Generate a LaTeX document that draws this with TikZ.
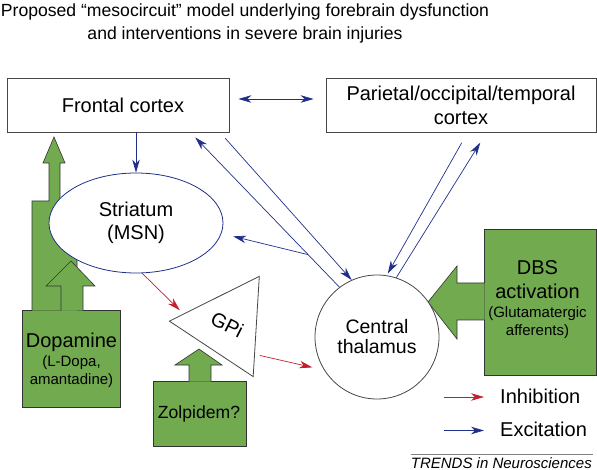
\documentclass[tikz,border=0pt]{standalone}
\usepackage{fontspec}
\setmainfont{Liberation Sans}
\usetikzlibrary{shapes.geometric,arrows.meta}

\definecolor{excblue}{RGB}{32,48,138}
\definecolor{inhred}{RGB}{196,30,45}
\definecolor{druggreen}{RGB}{114,170,80}
\definecolor{edgegray}{RGB}{70,70,70}
\newcommand{\bigtxt}{\fontsize{20}{24}\selectfont}

\begin{document}
\begin{tikzpicture}[x=1pt, y=-1pt,
	>={Stealth[length=13pt, width=7.5pt, inset=4pt]},
	box/.style={shape=rectangle, draw=edgegray, line width=0.8pt, fill=white, inner sep=0pt, align=center, font=\bigtxt},
	txt/.style={inner sep=0pt, align=center},
	drug/.style={draw=black!80, line width=0.6pt, fill=druggreen},
	exc/.style={draw=excblue, line width=0.7pt, ->},
	inh/.style={draw=inhred, line width=0.7pt, ->}]
	\useasboundingbox (0, 0) rectangle (597, 470);
	% Title:
	\node[txt, anchor=north, font=\fontsize{17.6}{23}\selectfont] (title) at (245, 4) {Proposed “mesocircuit” model underlying forebrain dysfunction\\and interventions in severe brain injuries};
	% Cortex boxes:
	\node[box, minimum width=222pt, minimum height=54pt] (front) at (118, 105) {\hspace*{10pt}Frontal cortex};
	\node[box, minimum width=270pt, minimum height=54pt] (par) at (461, 105) {Parietal/occipital/temporal\\cortex};
	% Green drug shapes (drawn under the nodes):
	\path[drug] (22, 310) rectangle (120, 407);
	\path[drug] (32, 310.6) -- (32, 201) -- (49, 201) -- (49, 163) -- (43, 163) -- (54, 137) -- (65, 163) -- (60, 163) -- (60, 201) -- (77, 201) -- (77, 310.6);
	\path[drug] (61, 310.6) -- (61, 286) -- (46, 286) -- (71, 261) -- (95, 286) -- (83, 286) -- (83, 310.6);
	\path[drug] (153, 381) rectangle (246, 446);
	\path[drug] (189, 381.6) -- (189, 365) -- (175, 365) -- (199, 349) -- (222, 365) -- (211, 365) -- (211, 381.6);
	\path[drug] (484, 229) rectangle (596, 375);
	\path[drug] (484.6, 283) -- (457, 283) -- (457, 266) -- (428, 302) -- (457, 339) -- (457, 320) -- (484.6, 320);
	% Circuit nodes:
	\node[shape=ellipse, draw=excblue, line width=0.8pt, fill=white, minimum width=174pt, minimum height=100pt, inner sep=0pt, align=center, font=\fontsize{20}{23}\selectfont] (stri) at (136, 223) {Striatum\\(MSN)};
	\node[shape=regular polygon, regular polygon sides=3, draw=edgegray, line width=0.8pt, fill=white, minimum size=116pt, inner sep=0pt, rotate=-27, shape border rotate=-6.5, font=\bigtxt] (gpi) at (227.3, 324.7) {GPi};
	\node[shape=circle, draw=edgegray, line width=0.8pt, fill=white, minimum size=124pt, inner sep=0pt, align=center, font=\fontsize{19.5}{20}\selectfont] (thal) at (377, 337) {Central\\thalamus};
	% Drug labels:
	\node[txt, font=\fontsize{15}{18}\selectfont] (dopa) at (71.5, 360.5) {{\bigtxt Dopamine}\\[1pt](L-Dopa,\\amantadine)};
	\node[txt, anchor=base, font=\fontsize{17.6}{20}\selectfont] (zolp) at (199, 418) {Zolpidem?};
	\node[txt, font=\fontsize{15}{18}\selectfont] (dbs) at (537.5, 300) {{\bigtxt DBS}\\[6pt]{\bigtxt activation}\\[1pt](Glutamatergic\\afferents)};
	% Excitation:
	\draw[exc, <->, shorten <=9pt, shorten >=12pt] ([yshift=6pt]front.east) -- ([yshift=6pt]par.west);
	\draw[exc] (front.south -| stri.north) -- (stri.north);
	\draw[exc, shorten <=8pt] ([xshift=-9.4pt]front.south east) -- (thal.114);
	\draw[exc, shorten >=7pt] (thal.127) -- coordinate[pos=0.21] (br) ([xshift=-39pt]front.south east);
	\draw[exc, shorten >=12pt] (br) -- (stri.-7);
	\draw[exc, shorten <=12pt, shorten >=2pt] ([xshift=142pt]par.south west) -- (thal.81);
	\draw[exc, shorten >=12pt] (thal.72) -- ([xshift=161pt]par.south west);
	% Inhibition:
	\draw[inh, shorten >=5pt] (stri.-83) -- (gpi.193);
	\draw[inh, shorten <=5pt, shorten >=12pt] (gpi.-20) -- (thal.212);
	% Legend:
	\node[txt, anchor=base west, font=\bigtxt] (inhtxt) at (500, 403) {Inhibition};
	\node[txt, anchor=base west, font=\bigtxt] (exctxt) at (500, 436) {Excitation};
	\draw[inh] ([xshift=-56pt, yshift=6pt]inhtxt.base west) -- ([xshift=-16pt, yshift=6pt]inhtxt.base west);
	\draw[exc] ([xshift=-56pt, yshift=5.5pt]exctxt.base west) -- ([xshift=-16pt, yshift=5.5pt]exctxt.base west);
	\node[txt, anchor=base east, font=\fontsize{15}{18}\selectfont\itshape] (src) at (592, 468) {TRENDS in Neurosciences};
	\draw[gray, line width=0.6pt] ([yshift=14pt]src.base west) -- ([xshift=1pt, yshift=14pt]src.base east);
\end{tikzpicture}
\end{document}
